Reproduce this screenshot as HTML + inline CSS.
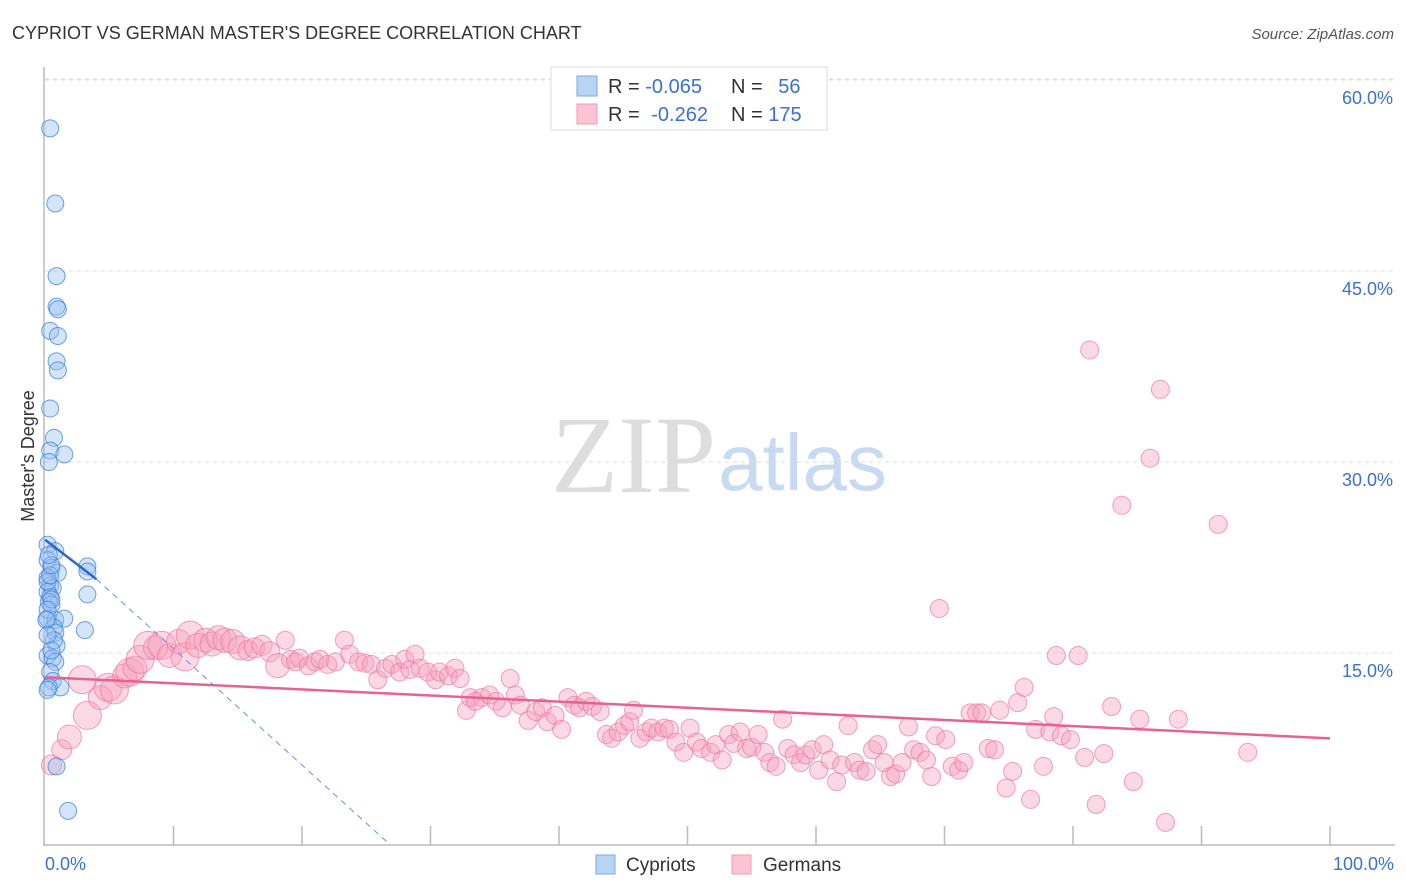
<!DOCTYPE html>
<html><head><meta charset="utf-8"><style>
body{margin:0;background:#fff;font-family:"Liberation Sans",sans-serif;}
#wrap{position:relative;width:1406px;height:892px;overflow:hidden}
</style></head><body><div id="wrap">
<svg id="svg" width="1406" height="892" xmlns="http://www.w3.org/2000/svg">
<text x="12" y="39" font-size="18" fill="#333">CYPRIOT VS GERMAN MASTER'S DEGREE CORRELATION CHART</text>
<text x="1394" y="39" font-size="15" font-style="italic" fill="#555" text-anchor="end">Source: ZipAtlas.com</text>
<text x="34" y="456" font-size="18" fill="#333" text-anchor="middle" transform="rotate(-90 34 456)">Master's Degree</text>
<text x="716" y="492" font-size="110" font-family="Liberation Serif,serif" fill="#ddd" text-anchor="end">ZIP</text>
<text x="718" y="490" font-size="80" fill="#c8daf2">atlas</text>
<g id="grid"></g><g id="axes"></g><g id="marks"></g>
<g>
<rect x="551" y="67" width="276" height="63" fill="#fff" stroke="#ddd"/>
<rect x="577" y="76" width="20" height="20" fill="#b8d4f5" stroke="#7aaae8"/>
<rect x="577" y="104" width="20" height="20" fill="#fac4d4" stroke="#f09ab5"/>
<text x="608" y="93" font-size="20" fill="#333">R = <tspan fill="#3a70d4">-0.065</tspan></text>
<text x="731" y="93" font-size="20" fill="#333">N = <tspan fill="#3a70d4" dx="10">56</tspan></text>
<text x="608" y="121" font-size="20" fill="#333">R = <tspan fill="#3a70d4" dx="6">-0.262</tspan></text>
<text x="731" y="121" font-size="20" fill="#333">N = <tspan fill="#3a70d4">175</tspan></text>
</g>
<g>
<rect x="596" y="855" width="19" height="19" fill="#b8d4f5" stroke="#7aaae8"/>
<text x="626" y="871" font-size="19" fill="#333">Cypriots</text>
<rect x="732" y="855" width="19" height="19" fill="#fac4d4" stroke="#f09ab5"/>
<text x="763" y="871" font-size="19" fill="#333">Germans</text>
</g>
</svg>
<script>
const yTicks=[15,30,45,60];
const yTickLabels=["15.0%","30.0%","45.0%","60.0%"];
const xEndLabels=["0.0%","100.0%"];
const blueX=[0.4,0.8,0.9,0.9,1.0,0.4,1.0,0.9,1.0,0.4,0.7,0.4,1.5,0.3,0.2,0.8,0.2,0.5,1.0,3.3,3.3,0.2,0.4,0.6,0.2,0.4,3.3,0.3,0.5,0.2,0.8,1.5,0.7,0.8,3.1,0.9,0.2,0.6,0.8,0.4,0.6,1.2,0.3,0.9,1.8,0.2,0.2,0.5,0.2,0.7,0.4,0.5,0.3,0.1,0.2,0.5];
const blueY=[56.2,50.3,44.6,42.2,42.0,40.3,39.9,37.9,37.2,34.2,31.9,30.9,30.6,30.0,23.5,23.0,22.3,21.7,21.3,21.8,21.4,20.9,20.3,20.1,19.8,19.4,19.6,19.0,18.8,17.7,17.6,17.7,17.0,16.6,16.8,15.6,14.8,14.6,14.3,13.5,12.8,12.3,12.3,6.1,2.6,20.6,12.1,19.2,18.4,16.0,21.1,21.9,22.7,17.6,16.4,15.2];
const pinkX=[0.5,1.3,1.9,3.3,4.3,4.9,5.4,2.9,6.2,6.6,7.0,7.4,8.0,8.6,9.1,9.7,10.4,10.9,11.3,11.9,12.5,13.0,13.5,14.0,14.6,15.2,15.8,16.3,16.9,17.5,18.1,18.7,19.1,19.5,19.8,20.5,21.0,21.4,22.0,22.6,23.3,23.7,24.4,24.9,25.4,25.9,26.5,27.0,27.6,28.0,28.4,28.8,29.2,29.8,30.4,30.7,31.4,31.9,32.3,32.8,33.1,33.5,34.0,34.6,35.1,35.6,36.2,36.6,37.0,37.6,38.2,38.7,39.1,39.7,40.2,40.7,41.2,41.6,42.1,42.6,43.2,43.7,44.1,44.6,45.1,45.5,45.8,46.3,46.8,47.2,47.7,48.2,48.6,49.1,49.7,50.2,50.7,51.1,51.8,52.2,52.7,53.2,53.6,54.1,54.6,55.0,55.5,56.0,56.4,56.9,57.4,57.8,58.3,58.8,59.2,59.7,60.2,60.6,61.1,61.6,62.0,62.5,63.0,63.4,63.9,64.4,64.8,65.3,65.8,66.2,66.7,67.2,67.6,68.1,68.6,69.0,69.3,69.6,70.1,70.6,71.1,71.5,72.0,72.5,72.9,73.4,73.9,74.3,74.8,75.3,75.7,76.2,76.7,77.1,77.7,78.2,78.7,79.1,79.8,80.4,80.9,81.3,81.8,82.4,83.0,83.8,84.7,85.2,86.0,86.8,87.2,88.2,91.3,93.6,78.5];
const pinkY=[6.2,7.4,8.4,10.1,11.5,12.3,12.1,12.9,13.2,13.5,13.8,14.5,15.6,15.4,15.6,14.8,15.9,14.7,16.4,15.6,16.0,15.7,16.2,16.0,15.9,15.4,15.2,15.4,15.6,15.1,14.0,16.0,14.5,14.3,14.6,14.0,14.3,14.5,14.1,14.3,16.0,14.9,14.3,14.2,14.1,12.9,13.8,14.1,13.5,14.5,13.7,14.9,13.8,13.5,12.9,13.5,13.2,13.8,13.0,10.5,11.5,11.2,11.5,11.7,11.2,10.7,13.0,11.7,10.9,9.7,10.4,10.7,9.6,10.1,9.0,11.5,10.9,10.7,11.2,10.8,10.4,8.6,8.3,8.8,9.3,9.6,10.5,8.3,8.8,9.1,8.8,9.1,9.0,8.0,7.2,9.1,8.0,7.5,7.2,7.8,6.6,8.6,7.9,8.8,7.5,7.6,8.6,7.2,6.4,6.1,9.8,7.5,7.0,6.4,7.0,7.4,5.8,7.8,6.6,4.9,6.2,9.3,6.4,5.8,5.7,7.4,7.8,6.4,5.3,5.5,6.4,9.2,7.4,7.2,6.6,5.3,8.5,18.5,8.2,6.1,5.8,6.4,10.3,10.3,10.3,7.5,7.4,10.5,4.4,5.7,11.1,12.3,3.5,9.0,6.1,8.8,14.8,8.5,8.2,14.8,6.8,38.8,3.1,7.1,10.8,26.6,4.9,9.8,30.3,35.7,1.7,9.8,25.1,7.2,10.0];
const pinkSize=[10,10,12,14,12,14,14,14,12,14,12,14,14,12,14,12,12,14,14,12,12,12,12,12,12,12,10,10,10,10,12];
const blueTrend=[23.9,20.8]; // y at x=0 and x=4
const blueTrendEndX=4, blueZeroX=26.8;
const pinkTrend=[13.1,8.3]; // y at x=0 and x=100
const X=v=>45+v*12.85, Y=v=>844-v*12.733;
const NS="http://www.w3.org/2000/svg";
function mk(tag,parent,attrs){const e=document.createElementNS(NS,tag);for(const k in attrs)e.setAttribute(k,attrs[k]);document.getElementById(parent).appendChild(e);return e;}
yTicks.forEach((t,i)=>{
 const l=mk('line','grid',{x1:45,x2:1395,y1:Y(t),y2:Y(t),stroke:'#ddd','stroke-dasharray':'4,4'});
 
 
 const tx=mk('text','grid',{x:1393,y:Y(t)+24,'font-size':18,fill:'#3a70d4','text-anchor':'end'});
 tx.textContent=yTickLabels[i];
 
 
});
{const l=mk('line','grid',{x1:45,x2:1395,y1:79,y2:79,stroke:'#ddd','stroke-dasharray':'4,4'});

}
{const a=mk('line','axes',{x1:44,x2:44,y1:67,y2:846,stroke:'#bbb','stroke-width':1.5});


const b=mk('line','axes',{x1:44,x2:1395,y1:845,y2:845,stroke:'#bbb','stroke-width':1.5});

}
for(let i=1;i<=10;i++){const t=mk('line','axes',{x1:X(i*10),x2:X(i*10),y1:826,y2:845,stroke:'#bbb','stroke-width':1.5});

}
[[0,'start',45],[100,'end',1394]].forEach((p,i)=>{const t=mk('text','axes',{x:p[2],y:870,'font-size':18,fill:'#3a70d4','text-anchor':p[1]});t.textContent=xEndLabels[i];

});
pinkX.forEach((x,i)=>{const c=mk('circle','marks',{cx:X(x),cy:Y(pinkY[i]),r:pinkSize[i]||9,fill:'rgba(246,160,188,0.4)',stroke:'rgba(236,120,160,0.7)','stroke-width':1});

});
blueX.forEach((x,i)=>{const c=mk('circle','marks',{cx:X(x),cy:Y(blueY[i]),r:8.5,fill:'rgba(150,190,240,0.4)',stroke:'rgba(60,130,220,0.75)','stroke-width':1});

});
{const l=mk('line','marks',{x1:X(0),y1:Y(pinkTrend[0]),x2:X(100),y2:Y(pinkTrend[1]),stroke:'#e8628f','stroke-width':2.5});


const d=mk('line','marks',{x1:X(blueTrendEndX),y1:Y(blueTrend[1]),x2:X(blueZeroX),y2:Y(0),stroke:'#6a90d8','stroke-width':1,'stroke-dasharray':'6,5'});


const b=mk('line','marks',{x1:X(0),y1:Y(blueTrend[0]),x2:X(blueTrendEndX),y2:Y(blueTrend[1]),stroke:'#2a66cc','stroke-width':2.5});

}
</script>
</div></body></html>
